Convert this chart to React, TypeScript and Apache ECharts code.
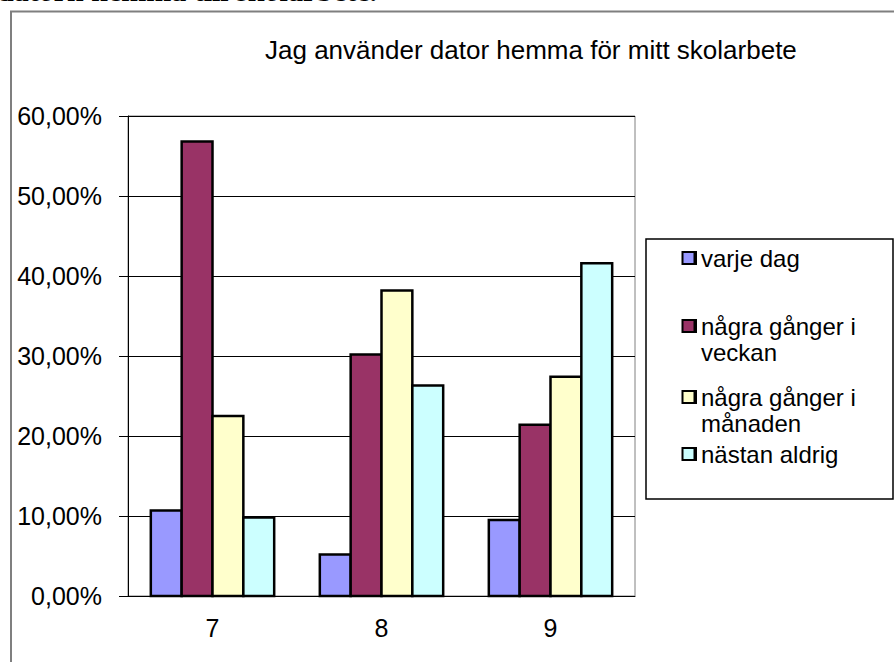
import React, { useEffect, useRef } from 'react';
import * as echarts from 'echarts';

const categories = ['7', '8', '9'];
const seriesNames = ['varje dag', 'några gånger i veckan', 'några gånger i månaden', 'nästan aldrig'];
const legendLabels = ['varje dag', '\nnågra gånger i\nveckan', '\nnågra gånger i\nmånaden', 'nästan aldrig'];
const varjeDag = [10.7, 5.2, 9.5];
const veckan = [56.8, 30.2, 21.4];
const manaden = [22.5, 38.2, 27.4];
const aldrig = [9.8, 26.3, 41.6];
const seriesData = [varjeDag, veckan, manaden, aldrig];
const seriesColors = ['#9999FF', '#993366', '#FFFFCC', '#CCFFFF'];
const yMin = 0;
const yMax = 60;
const yStep = 10;
const titleText = 'Jag använder dator hemma för mitt skolarbete';
const pageText = 'datorn hemma till skolarbete.';

const FONT = '"Liberation Sans", Arial, sans-serif';
const CATEGORY_GAP = 0.27;

export default function App() {
  const ref = useRef<HTMLDivElement>(null);
  useEffect(() => {
    if (!ref.current) return;
    const chart = echarts.init(ref.current, undefined, { renderer: 'svg' });
    const legendTops = [245, 287, 358, 441];
    const iconCenters = [258, 326, 397, 454];
    const nSeries = seriesNames.length;
    chart.setOption({
      animation: false,
      backgroundColor: '#fff',
      title: {
        text: titleText,
        left: 265,
        top: 37,
        padding: 0,
        textStyle: { fontFamily: FONT, fontSize: 26, fontWeight: 'normal', color: '#000' },
      },
      graphic: [
        {
          type: 'rect',
          shape: { x: 11, y: 11.5, width: 900, height: 700 },
          style: { fill: 'transparent', stroke: '#7f7f7f', lineWidth: 2 },
          z: -1,
        },
        {
          type: 'rect',
          shape: { x: 646, y: 239, width: 247, height: 260 },
          style: { fill: 'transparent', stroke: '#000', lineWidth: 1.5 },
        },
        ...seriesColors.map((c, i) => ({
          type: 'rect',
          z: 10,
          shape: { x: 682.5, y: iconCenters[i] - 6, width: 12, height: 12 },
          style: { fill: c, stroke: '#000', lineWidth: 2 },
        })),
        {
          type: 'text',
          x: 377,
          y: 5,
          style: {
            text: pageText,
            font: 'bold 30px "Liberation Serif", "Times New Roman", serif',
            fill: '#000',
            align: 'right',
            verticalAlign: 'bottom',
          },
        },
      ],
      legend: seriesNames.map((name, i) => ({
        data: [name],
        left: 683,
        top: legendTops[i],
        padding: 0,
        itemWidth: 12,
        itemHeight: 12,
        icon: 'rect',
        selectedMode: false,
        itemStyle: { color: seriesColors[i], borderColor: '#000', borderWidth: 2 },
        formatter: () => legendLabels[i],
        textStyle: {
          fontFamily: FONT,
          fontSize: 24,
          lineHeight: 26,
          color: '#000',
        },
      })),
      grid: {
        left: 128,
        top: 116,
        width: 507,
        height: 480,
        show: true,
        borderColor: '#808080',
        borderWidth: 1,
        containLabel: false,
      },
      xAxis: {
        type: 'category',
        data: categories,
        axisLine: { lineStyle: { color: '#000', width: 1 } },
        axisTick: { inside: true, length: 7, lineStyle: { color: '#000' } },
        axisLabel: { fontFamily: FONT, fontSize: 25, color: '#000', margin: 19 },
      },
      yAxis: {
        type: 'value',
        min: yMin,
        max: yMax,
        interval: yStep,
        axisLine: { show: true, lineStyle: { color: '#000', width: 1 } },
        axisTick: { show: true, inside: false, length: 9, lineStyle: { color: '#000' } },
        splitLine: { show: true, lineStyle: { color: '#000', width: 1 } },
        axisLabel: {
          fontFamily: FONT,
          fontSize: 25,
          color: '#000',
          margin: 26,
          formatter: (v: number) => v.toFixed(2).replace('.', ',') + '%',
        },
      },
      series: seriesNames.map((name, i) => ({
        type: 'custom',
        name,
        z: 3,
        encode: { x: 0, y: 1 },
        itemStyle: { color: seriesColors[i], borderColor: '#000', borderWidth: 2.5 },
        data: seriesData[i].map((v, c) => [c, v]),
        renderItem: (params: any, api: any) => {
          const c = api.value(0);
          const v = api.value(1);
          const base = api.coord([c, 0]);
          const top = api.coord([c, v]);
          const band = api.size([1, 0])[0];
          const groupW = band * (1 - CATEGORY_GAP);
          const barW = groupW / nSeries;
          const x = base[0] - groupW / 2 + i * barW;
          return {
            type: 'rect',
            shape: { x, y: top[1], width: barW, height: base[1] - top[1] },
            style: { fill: seriesColors[i], stroke: '#000', lineWidth: 2.5 },
          };
        },
      })),
    });
    return () => chart.dispose();
  }, []);
  return (
    <div
      ref={ref}
      style={{ position: 'absolute', left: 0, top: 0, width: 894, height: 662 }}
    />
  );
}
